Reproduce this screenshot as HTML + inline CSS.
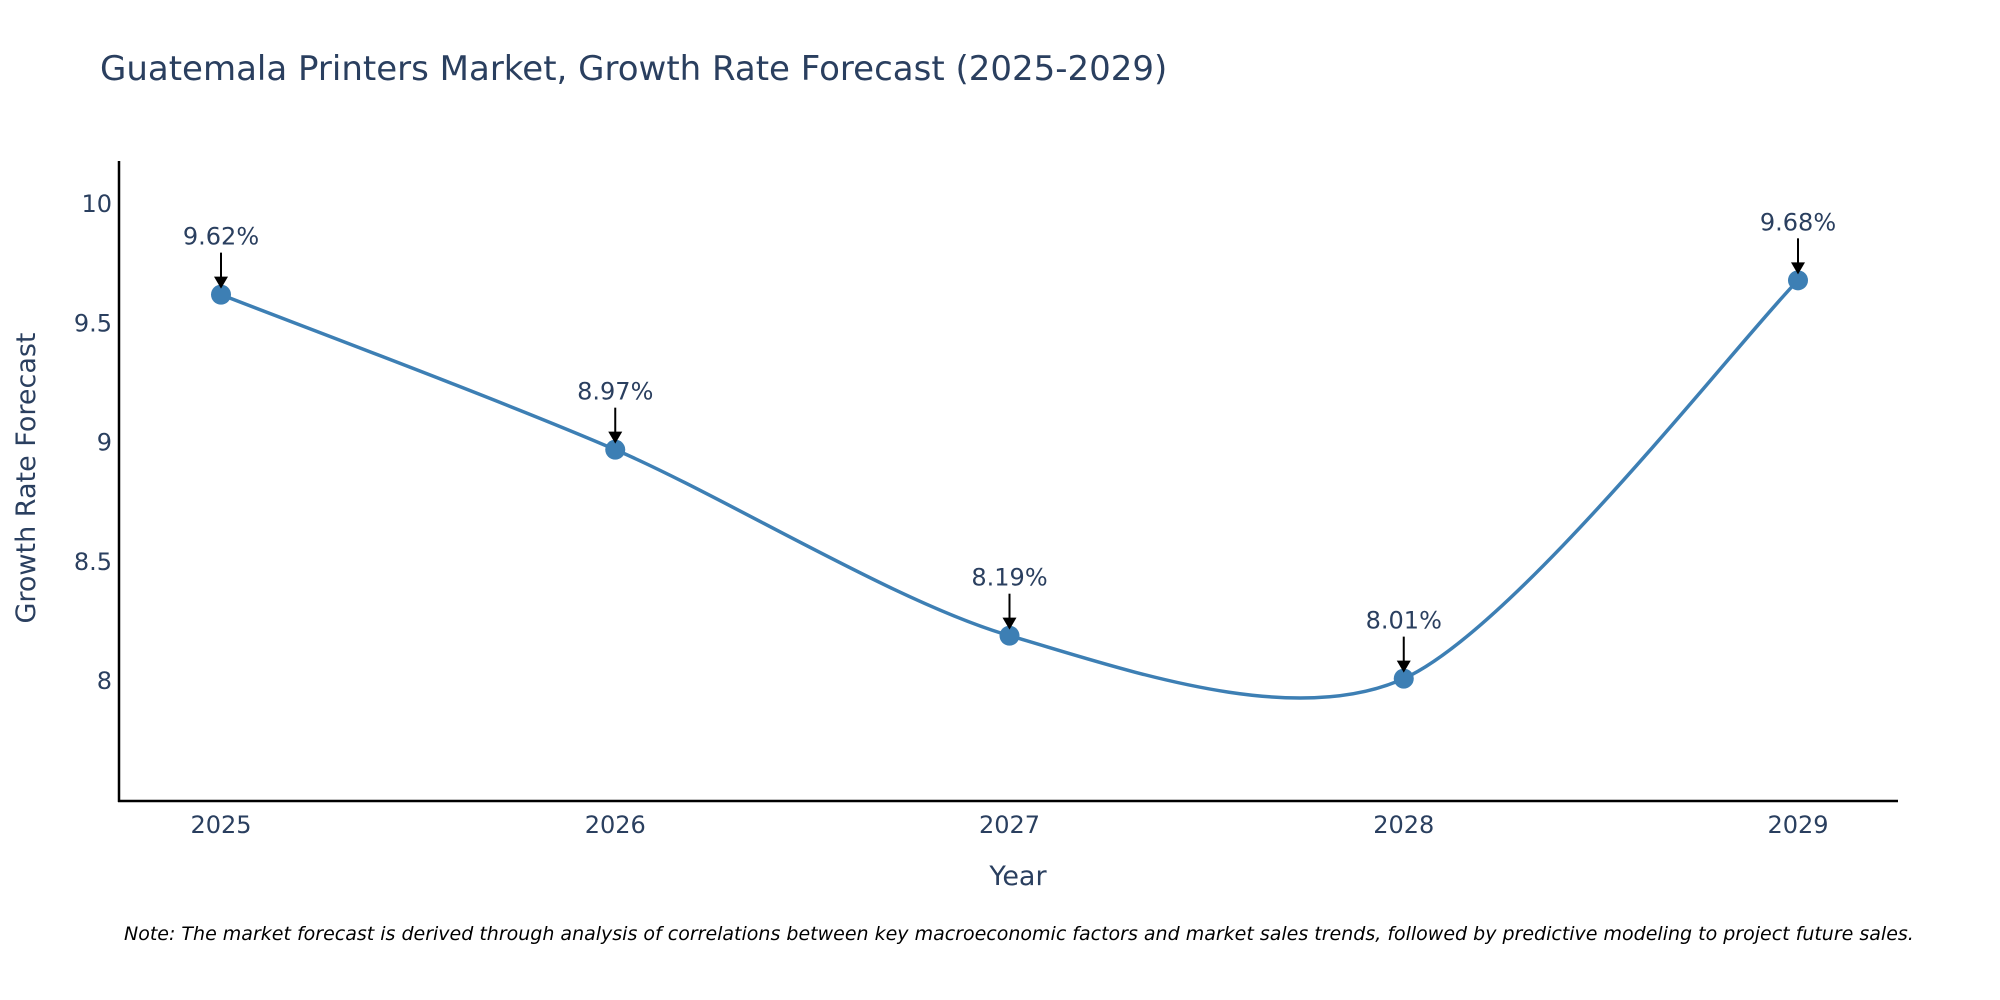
<!DOCTYPE html>
<html><head><meta charset="utf-8"><style>
body{margin:0;background:#fff;}
svg{display:block;font-family:"DejaVu Sans","Liberation Sans",sans-serif;}
</style></head><body>
<svg id="chart" width="2000" height="1000" viewBox="0 0 2000 1000">
<text x="100" y="80" font-size="34" fill="#2a3f5f">Guatemala Printers Market, Growth Rate Forecast (2025-2029)</text>
<g id="yticks"></g>
<g id="xticks"></g>
<line x1="119" y1="161" x2="119" y2="802" stroke="#000" stroke-width="2.5"/>
<line x1="118" y1="801" x2="1898" y2="801" stroke="#000" stroke-width="2.5"/>
<path id="line" fill="none" stroke="#3d7fb4" stroke-width="3.5"/>
<g id="points"></g>
<g id="annots"></g>
<text x="1018" y="885" font-size="27" fill="#2a3f5f" text-anchor="middle">Year</text>
<text transform="translate(35,478) rotate(-90)" font-size="27" fill="#2a3f5f" text-anchor="middle">Growth Rate Forecast</text>
<text x="124" y="940" font-size="19" font-style="italic" fill="#000">Note: The market forecast is derived through analysis of correlations between key macroeconomic factors and market sales trends, followed by predictive modeling to project future sales.</text>
</svg>
<script>
const years=[2025,2026,2027,2028,2029];
const values=[9.62,8.97,8.19,8.01,9.68];
const labels=["9.62%","8.97%","8.19%","8.01%","9.68%"];
const yTicks=[8,8.5,9,9.5,10];
const yTickLabels=["8","8.5","9","9.5","10"];
const NS="http://www.w3.org/2000/svg";
const X=v=>221+(v-2025)*(1798-221)/4;
const Y=v=>681-(v-8)*238.5;
function mk(tag,attrs,parent,txt){const e=document.createElementNS(NS,tag);for(const k in attrs)e.setAttribute(k,attrs[k]);if(txt!==undefined)e.textContent=txt;document.getElementById(parent).appendChild(e);return e;}
yTicks.forEach((t,i)=>{const e=mk('text',{x:112,y:Y(t)+8,'font-size':24,fill:'#2a3f5f','text-anchor':'end'},'yticks',yTickLabels[i]);

});
years.forEach(yv=>{const e=mk('text',{x:X(yv),y:833,'font-size':24,fill:'#2a3f5f','text-anchor':'middle'},'xticks',String(yv));

});
const P=years.map((yv,i)=>[X(yv),Y(values[i])]);
let d=`M${P[0][0]},${P[0][1]}`;
const k=7;
for(let i=0;i<P.length-1;i++){const p0=P[Math.max(0,i-1)],p1=P[i],p2=P[i+1],p3=P[Math.min(P.length-1,i+2)];
const c1=[p1[0]+(p2[0]-p0[0])/k,p1[1]+(p2[1]-p0[1])/k],c2=[p2[0]-(p3[0]-p1[0])/k,p2[1]-(p3[1]-p1[1])/k];
d+=` C${c1[0]},${c1[1]} ${c2[0]},${c2[1]} ${p2[0]},${p2[1]}`;}
document.getElementById('line').setAttribute('d',d);
P.forEach((p,i)=>{const c=mk('circle',{cx:p[0],cy:p[1],r:10,fill:'#3d7fb4'},'points');


const l=mk('line',{x1:p[0],y1:p[1]-42,x2:p[0],y2:p[1]-16,stroke:'#000','stroke-width':2},'annots');


const h=mk('polygon',{points:`${p[0]-7},${p[1]-18} ${p[0]+7},${p[1]-18} ${p[0]},${p[1]-6}`,fill:'#000'},'annots');


const t=mk('text',{x:p[0],y:p[1]-50,'font-size':24,fill:'#2a3f5f','text-anchor':'middle'},'annots',labels[i]);

});
</script>
</body></html>
